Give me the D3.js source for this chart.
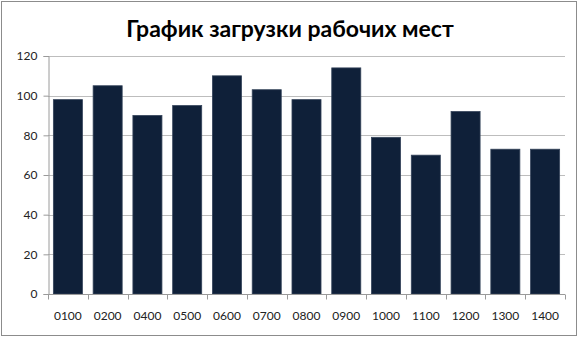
<!DOCTYPE html>
<html>
<head>
<meta charset="utf-8">
<script src="https://cdn.jsdelivr.net/npm/d3@7"></script>
<style>
  body { margin: 0; background: #fff; }
  svg { display: block; }
</style>
</head>
<body>
<div id="chart"></div>
<script>
// Chart data
const categories = ["0100", "0200", "0400", "0500", "0600", "0700", "0800", "0900", "1000", "1100", "1200", "1300", "1400"];
const values = [98, 105, 90, 95, 110, 103, 98, 114, 79, 70, 92, 73, 73];
const yTicks = [0, 20, 40, 60, 80, 100, 120];
const title = "График загрузки рабочих мест";

const W = 580, H = 338;
const margin = { top: 56, right: 15, bottom: 44, left: 48 };
const width = W - margin.left - margin.right;
const height = H - margin.top - margin.bottom;

const svg = d3.select("#chart").append("svg")
    .attr("width", W)
    .attr("height", H);

// Outer border
svg.append("rect")
    .attr("x", 1.5).attr("y", 1.5)
    .attr("width", W - 5).attr("height", H - 4)
    .attr("fill", "#fff")
    .attr("stroke", "#8c8c8c")
    .attr("stroke-width", 1);

// Title
svg.append("text")
    .attr("x", W / 2)
    .attr("y", 37)
    .attr("text-anchor", "middle")
    .style("font-family", "Lato, 'Open Sans', sans-serif")
    .style("font-weight", "bold")
    .style("font-size", "23px")
    .attr("fill", "#000")
    .text(title);

const g = svg.append("g")
    .attr("transform", `translate(${margin.left},${margin.top})`);

const x = d3.scaleBand()
    .domain(categories)
    .range([0, width])
    .paddingInner(0.27)
    .paddingOuter(0.135);

const y = d3.scaleLinear()
    .domain([0, 120])
    .range([height, 0]);

// Gridlines
g.append("g")
    .selectAll("line")
    .data(yTicks.filter(d => d > 0))
    .enter().append("line")
    .attr("x1", 0).attr("x2", width)
    .attr("y1", d => Math.round(y(d)) + 0.5)
    .attr("y2", d => Math.round(y(d)) + 0.5)
    .attr("stroke", "#bdbdbd");

// Y axis
const yAxis = g.append("g")
    .attr("transform", "translate(0.5,0)")
    .call(d3.axisLeft(y).tickValues(yTicks).tickSize(5).tickPadding(6));
yAxis.select(".domain").attr("stroke", "#9a9a9a");
yAxis.selectAll(".tick line").attr("stroke", "#9a9a9a");
yAxis.selectAll("text")
    .style("font-family", "Lato, 'Open Sans', sans-serif")
    .style("font-size", "12px")
    .attr("fill", "#222");

// Bars
g.selectAll(".bar")
    .data(values)
    .enter().append("rect")
    .attr("class", "bar")
    .attr("x", (d, i) => x(categories[i]))
    .attr("y", d => y(d))
    .attr("width", x.bandwidth())
    .attr("height", d => height - y(d))
    .attr("fill", "#0f2039")
    .attr("stroke", "#34435a")
    .attr("stroke-width", 0.8);

// X axis
const xAxisG = g.append("g")
    .attr("transform", `translate(0,${Math.round(height) + 0.5})`);
xAxisG.append("line")
    .attr("x1", 0).attr("x2", width)
    .attr("stroke", "#9a9a9a");
xAxisG.selectAll(".xtick")
    .data(d3.range(categories.length + 1))
    .enter().append("line")
    .attr("x1", i => Math.round(i * width / categories.length) + 0.5)
    .attr("x2", i => Math.round(i * width / categories.length) + 0.5)
    .attr("y1", 0).attr("y2", 5)
    .attr("stroke", "#9a9a9a");
xAxisG.selectAll(".xlabel")
    .data(categories)
    .enter().append("text")
    .attr("x", d => x(d) + x.bandwidth() / 2)
    .attr("y", 25)
    .attr("text-anchor", "middle")
    .style("font-family", "Lato, 'Open Sans', sans-serif")
    .style("font-size", "12px")
    .attr("fill", "#222")
    .text(d => d);
</script>
</body>
</html>
